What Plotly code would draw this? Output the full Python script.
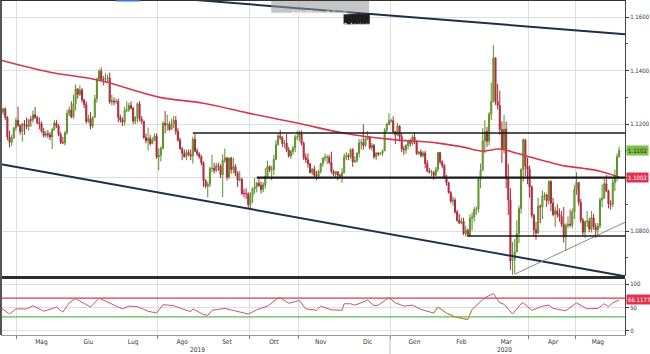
import pandas as pd
import plotly.graph_objects as go

# ---------------- DATA ----------------
first_open = 1.1260
# daily (high, low, close); open = previous close
apr19 = [(1.1265,1.1226,1.1236),(1.1250,1.1230,1.1245),(1.1262,1.1235,1.1257),(1.1262,1.1216,1.1225),
         (1.1230,1.1140,1.1152),(1.1175,1.1112,1.1132),(1.1160,1.1118,1.1148),(1.1190,1.1145,1.1185),
         (1.1224,1.1175,1.1214)]
may19 = [(1.1265,1.1190,1.1194),(1.1200,1.1160,1.1172),(1.1205,1.1135,1.1200),(1.1215,1.1160,1.1197),
         (1.1225,1.1180,1.1191),(1.1220,1.1175,1.1216),(1.1230,1.1190,1.1215),(1.1251,1.1205,1.1235),
         (1.1264,1.1220,1.1224),(1.1232,1.1200,1.1205),(1.1225,1.1180,1.1202),(1.1210,1.1168,1.1173),
         (1.1185,1.1150,1.1157),(1.1175,1.1150,1.1164),(1.1178,1.1148,1.1160),(1.1170,1.1140,1.1152),
         (1.1185,1.1107,1.1180),(1.1215,1.1175,1.1204),(1.1216,1.1185,1.1193),(1.1200,1.1155,1.1161),
         (1.1170,1.1125,1.1131),(1.1152,1.1125,1.1130),(1.1175,1.1120,1.1168)]
jun19 = [(1.1253,1.1160,1.1240),(1.1265,1.1230,1.1253),(1.1285,1.1222,1.1227),(1.1310,1.1220,1.1276),
         (1.1348,1.1250,1.1332),(1.1330,1.1295,1.1311),(1.1345,1.1305,1.1327),(1.1335,1.1280,1.1290),
         (1.1295,1.1260,1.1273),(1.1285,1.1202,1.1210),(1.1235,1.1205,1.1220),(1.1245,1.1181,1.1193),
         (1.1230,1.1185,1.1225),(1.1310,1.1225,1.1295),(1.1375,1.1280,1.1368),(1.1405,1.1360,1.1398),
         (1.1412,1.1360,1.1367),(1.1380,1.1345,1.1367),(1.1390,1.1355,1.1372),(1.1385,1.1355,1.1373)]
jul19 = [(1.1393,1.1276,1.1283),(1.1310,1.1270,1.1286),(1.1300,1.1270,1.1283),(1.1295,1.1275,1.1285),
         (1.1295,1.1207,1.1225),(1.1235,1.1205,1.1215),(1.1225,1.1193,1.1208),(1.1265,1.1195,1.1252),
         (1.1285,1.1245,1.1253),(1.1280,1.1245,1.1270),(1.1285,1.1255,1.1259),(1.1265,1.1200,1.1211),
         (1.1230,1.1200,1.1225),(1.1282,1.1205,1.1276),(1.1286,1.1210,1.1219),(1.1230,1.1200,1.1211),
         (1.1212,1.1145,1.1150),(1.1165,1.1128,1.1138),(1.1187,1.1101,1.1146),(1.1160,1.1120,1.1127),
         (1.1150,1.1125,1.1141),(1.1165,1.1135,1.1155),(1.1165,1.1070,1.1077)]
aug19 = [(1.1110,1.1027,1.1084),(1.1117,1.1060,1.1109),(1.1211,1.1105,1.1203),(1.1249,1.1165,1.1197),
         (1.1235,1.1175,1.1200),(1.1210,1.1175,1.1180),(1.1220,1.1180,1.1200),(1.1230,1.1185,1.1214),
         (1.1230,1.1160,1.1173),(1.1185,1.1135,1.1140),(1.1150,1.1105,1.1108),(1.1115,1.1065,1.1091),
         (1.1105,1.1075,1.1078),(1.1105,1.1065,1.1094),(1.1105,1.1080,1.1085),(1.1105,1.1065,1.1081),
         (1.1153,1.1052,1.1143),(1.1165,1.1095,1.1099),(1.1110,1.1080,1.1089),(1.1095,1.1070,1.1078),
         (1.1085,1.1045,1.1056),(1.1060,1.0965,1.0989)]
sep19 = [(1.0995,1.0960,1.0968),(1.0985,1.0926,1.0974),(1.1040,1.0965,1.1034),(1.1085,1.1020,1.1035),
         (1.1055,1.1015,1.1027),(1.1055,1.1020,1.1044),(1.1055,1.1025,1.1043),(1.1050,1.0998,1.1011),
         (1.1087,1.0927,1.1064),(1.1109,1.1055,1.1074),(1.1075,1.0990,1.1002),(1.1075,1.0995,1.1073),
         (1.1077,1.1015,1.1030),(1.1075,1.1015,1.1041),(1.1050,1.1005,1.1016),(1.1025,1.0965,1.0991),
         (1.1025,1.0985,1.0993),(1.1000,1.0935,1.0941),(1.0958,1.0925,1.0940),(1.0960,1.0920,1.0940),
         (1.0945,1.0885,1.0899)]
oct19 = [(1.0945,1.0879,1.0932),(1.0963,1.0905,1.0958),(1.0999,1.0940,1.0966),(1.0985,1.0945,1.0979),
         (1.0995,1.0965,1.0971),(1.0985,1.0940,1.0956),(1.0983,1.0945,1.0973),(1.1035,1.0960,1.1005),
         (1.1063,1.1000,1.1042),(1.1045,1.1020,1.1029),(1.1045,1.0990,1.1030),(1.1085,1.1010,1.1068),
         (1.1140,1.1065,1.1123),(1.1163,1.1120,1.1156),(1.1179,1.1140,1.1150),(1.1155,1.1115,1.1127),
         (1.1140,1.1110,1.1129),(1.1163,1.1095,1.1103),(1.1115,1.1075,1.1081),(1.1105,1.1070,1.1098),
         (1.1120,1.1085,1.1111),(1.1160,1.1095,1.1152),(1.1175,1.1140,1.1152)]
nov19 = [(1.1176,1.1135,1.1165),(1.1176,1.1120,1.1128),(1.1135,1.1065,1.1075),(1.1090,1.1055,1.1067),
         (1.1090,1.1037,1.1052),(1.1055,1.1015,1.1019),(1.1035,1.1010,1.1032),(1.1045,1.1000,1.1009),
         (1.1025,1.0990,1.1006),(1.1030,1.0995,1.1023),(1.1055,1.1015,1.1052),(1.1075,1.1040,1.1073),
         (1.1090,1.1060,1.1076),(1.1085,1.1050,1.1076),(1.1085,1.1050,1.1057),(1.1097,1.1015,1.1023),
         (1.1030,1.1005,1.1013),(1.1025,1.1000,1.1022),(1.1025,1.0990,1.1009),(1.1015,1.0995,1.1005),
         (1.1035,1.0981,1.1018)]
dec19 = [(1.1090,1.1015,1.1078),(1.1095,1.1065,1.1082),(1.1090,1.1065,1.1078),(1.1110,1.1070,1.1104),
         (1.1110,1.1040,1.1059),(1.1080,1.1055,1.1063),(1.1095,1.1055,1.1091),(1.1145,1.1075,1.1130),
         (1.1145,1.1105,1.1131),(1.1199,1.1105,1.1120),(1.1150,1.1115,1.1144),(1.1175,1.1140,1.1152),
         (1.1155,1.1105,1.1111),(1.1130,1.1100,1.1121),(1.1125,1.1070,1.1078),(1.1095,1.1065,1.1092),
         (1.1095,1.1080,1.1088),(1.1095,1.1085,1.1091),(1.1105,1.1080,1.1100),(1.1185,1.1100,1.1177),
         (1.1205,1.1170,1.1199),(1.1240,1.1195,1.1213)]
jan20 = [(1.1220,1.1205,1.1213),(1.1229,1.1163,1.1171),(1.1175,1.1125,1.1159),(1.1205,1.1155,1.1193),
         (1.1195,1.1135,1.1153),(1.1165,1.1095,1.1107),(1.1120,1.1085,1.1104),(1.1125,1.1090,1.1121),
         (1.1140,1.1105,1.1135),(1.1145,1.1115,1.1128),(1.1160,1.1120,1.1152),(1.1170,1.1125,1.1136),
         (1.1140,1.1085,1.1090),(1.1100,1.1085,1.1096),(1.1105,1.1075,1.1082),(1.1100,1.1075,1.1092),
         (1.1100,1.1035,1.1053),(1.1065,1.1020,1.1024),(1.1035,1.1015,1.1019),(1.1030,1.1005,1.1020),
         (1.1025,1.0992,1.1009),(1.1040,1.1005,1.1031),(1.1096,1.1020,1.1094)]
feb20 = [(1.1095,1.1050,1.1059),(1.1065,1.1035,1.1045),(1.1050,1.0995,1.1001),(1.1010,1.0970,1.0981),
         (1.0985,1.0940,1.0944),(1.0950,1.0905,1.0912),(1.0930,1.0895,1.0916),(1.0925,1.0865,1.0872),
         (1.0880,1.0835,1.0840),(1.0865,1.0827,1.0830),(1.0850,1.0825,1.0837),(1.0850,1.0785,1.0791),
         (1.0820,1.0780,1.0803),(1.0810,1.0778,1.0783),(1.0863,1.0780,1.0848),(1.0870,1.0802,1.0852),
         (1.0890,1.0835,1.0880),(1.0892,1.0860,1.0882),(1.1000,1.0870,1.0995),(1.1053,1.0960,1.1027)]
mar20 = [(1.1185,1.1025,1.1137),(1.1214,1.1090,1.1172),(1.1190,1.1115,1.1136),(1.1245,1.1120,1.1237),
         (1.1355,1.1215,1.1285),(1.1495,1.1280,1.1448),(1.1448,1.1272,1.1285),(1.1350,1.1255,1.1270),
         (1.1325,1.1160,1.1180),(1.1210,1.1055,1.1106),(1.1235,1.1090,1.1181),(1.1210,1.0960,1.0996),
         (1.1050,1.0860,1.0916),(1.0960,1.0655,1.0689),(1.0760,1.0636,1.0693),(1.0770,1.0640,1.0722),
         (1.0840,1.0735,1.0791),(1.0895,1.0755,1.0884),(1.1035,1.0865,1.1030),(1.1147,1.0985,1.1141),
         (1.1145,1.1005,1.1043),(1.1075,1.0975,1.1031)]
apr20 = [(1.1045,1.0925,1.0966),(1.0970,1.0850,1.0859),(1.0865,1.0780,1.0805),(1.0835,1.0768,1.0793),
         (1.0925,1.0790,1.0893),(1.0900,1.0830,1.0890),(1.0952,1.0845,1.0932),(1.0945,1.0915,1.0935),
         (1.0940,1.0890,1.0914),(1.0990,1.0900,1.0985),(1.0990,1.0875,1.0905),(1.0925,1.0855,1.0862),
         (1.0890,1.0815,1.0876),(1.0900,1.0850,1.0863),(1.0885,1.0835,1.0855),(1.0875,1.0815,1.0825),
         (1.0890,1.0757,1.0778),(1.0830,1.0727,1.0821),(1.0855,1.0810,1.0826),(1.0880,1.0815,1.0823),
         (1.0885,1.0810,1.0872),(1.0972,1.0845,1.0955)]
may20 = [(1.1020,1.0935,1.0982),(1.0980,1.0895,1.0908),(1.0920,1.0830,1.0841),(1.0850,1.0782,1.0796),
         (1.0840,1.0775,1.0835),(1.0875,1.0815,1.0837),(1.0850,1.0795,1.0807),(1.0875,1.0795,1.0850),
         (1.0865,1.0805,1.0816),(1.0830,1.0775,1.0804),(1.0830,1.0785,1.0819),(1.0925,1.0810,1.0917),
         (1.0975,1.0890,1.0924),(1.0995,1.0920,1.0977),(1.1010,1.0945,1.0950),(1.0955,1.0885,1.0902),
         (1.0915,1.0880,1.0900),(1.0995,1.0890,1.0981),(1.1030,1.0950,1.1008),(1.1090,1.0985,1.1078),
         (1.1115,1.1075,1.1102)]

month_blocks = [("2019-04-18", "2019-04-30", apr19), ("2019-05-01", "2019-05-31", may19),
                ("2019-06-01", "2019-06-30", jun19), ("2019-07-01", "2019-07-31", jul19),
                ("2019-08-01", "2019-08-31", aug19), ("2019-09-01", "2019-09-30", sep19),
                ("2019-10-01", "2019-10-31", oct19), ("2019-11-01", "2019-11-30", nov19),
                ("2019-12-01", "2019-12-31", dec19), ("2020-01-01", "2020-01-31", jan20),
                ("2020-02-01", "2020-02-29", feb20), ("2020-03-01", "2020-03-31", mar20),
                ("2020-04-01", "2020-04-30", apr20), ("2020-05-01", "2020-05-31", may20)]

# 200-day moving average
ma_dates = ["2019-04-19", "2019-05-22", "2019-06-24", "2019-08-01", "2019-08-30", "2019-09-30",
            "2019-10-31", "2019-12-02", "2019-12-31", "2020-01-31", "2020-02-18", "2020-03-02",
            "2020-03-12", "2020-03-24", "2020-04-03", "2020-04-14", "2020-04-24", "2020-05-06",
            "2020-05-18", "2020-05-29"]
ma_vals = [1.1439, 1.1394, 1.1364, 1.1301, 1.1278, 1.1241, 1.1204, 1.1166, 1.1144, 1.1129,
           1.1114, 1.1099, 1.1107, 1.1091, 1.1073, 1.1058, 1.1043, 1.1035, 1.1024, 1.1002]

# RSI (lower panel)
rsi_dates = ["2019-04-19", "2019-04-25", "2019-04-30", "2019-05-07", "2019-05-10", "2019-05-17",
             "2019-05-24", "2019-05-27", "2019-05-30", "2019-06-04", "2019-06-07", "2019-06-11",
             "2019-06-14", "2019-06-18", "2019-06-24", "2019-06-28", "2019-07-03", "2019-07-09",
             "2019-07-12", "2019-07-18", "2019-07-25", "2019-07-31", "2019-08-05", "2019-08-12",
             "2019-08-16", "2019-08-22", "2019-08-23", "2019-08-30", "2019-09-03", "2019-09-05",
             "2019-09-13", "2019-09-19", "2019-09-27", "2019-09-30", "2019-10-04", "2019-10-11",
             "2019-10-18", "2019-10-21", "2019-10-25", "2019-11-01", "2019-11-06", "2019-11-13",
             "2019-11-15", "2019-11-22", "2019-11-29", "2019-12-02", "2019-12-05", "2019-12-09",
             "2019-12-13", "2019-12-17", "2019-12-20", "2019-12-24", "2019-12-31", "2020-01-03",
             "2020-01-09", "2020-01-15", "2020-01-21", "2020-01-29", "2020-01-31", "2020-02-06",
             "2020-02-12", "2020-02-19", "2020-02-20", "2020-02-24", "2020-02-28", "2020-03-03",
             "2020-03-09", "2020-03-12", "2020-03-16", "2020-03-20", "2020-03-26", "2020-03-27",
             "2020-04-02", "2020-04-09", "2020-04-14", "2020-04-16", "2020-04-24", "2020-04-30",
             "2020-05-01", "2020-05-08", "2020-05-15", "2020-05-20", "2020-05-22", "2020-05-26",
             "2020-05-29"]
rsi_vals = [49, 36, 47, 47, 54, 42, 49, 51, 40, 60, 69, 64, 55, 51, 70, 62, 55, 47, 53, 52,
            42, 38, 56, 54, 47, 41, 47, 35, 33, 44, 48, 44, 38, 36, 45, 53, 70, 71, 59, 65,
            47, 44, 53, 45, 44, 58, 58, 55, 62, 66, 54, 55, 71, 60, 53, 55, 46, 38, 51, 38,
            30, 25, 24, 46, 62, 71, 80, 60, 57, 36, 58, 60, 44, 53, 55, 48, 43, 58, 60, 47,
            48, 58, 52, 60, 66.1177]
rsi_low_start, rsi_low_end = "2020-01-29", "2020-02-24"
rsi_levels = [70, 30]
rsi_level_colors = ["#d8394f", "#62b85a"]

# drawn lines (start date, start price, end date, end price)
upper_channel = ("2019-04-19", 1.1722, "2020-06-02 18:00", 1.1536)
lower_channel = ("2019-04-19", 1.1050, "2020-06-02 18:00", 1.0631)
support_rising = ("2020-03-23", 1.0639, "2020-06-02 18:00", 1.0833)
hlines = [("2019-08-23", 1.1167, 1.5), ("2019-10-04", 1.1000, 2.2), ("2020-02-20", 1.0782, 1.5)]

month_labels = ["Mag", "Giu", "Lug", "Ago", "Set", "Ott", "Nov", "Dic",
                "Gen", "Feb", "Mar", "Apr", "Mag"]
year_labels = [("2019-08-27", "2019"), ("2020-03-16", "2020")]
price_ticks = [1.08, 1.10, 1.12, 1.14, 1.16]
price_ticktext = ["1.0800", "", "1.1200", "1.1400", "1.1600"]
price_minor = [1.07, 1.09, 1.11, 1.13, 1.15]
rsi_ticks = [0, 50, 100]

# ---------------- BUILD ----------------
dates, opens, highs, lows, closes = [], [], [], [], []
prev = first_open
for start, end, rows in month_blocks:
    bd = pd.bdate_range(start, end)
    for d, (h, l, c) in zip(bd, rows):
        dates.append(d)
        opens.append(prev)
        highs.append(max(h, prev, c))
        lows.append(min(l, prev, c))
        closes.append(c)
        prev = c

x_start = pd.Timestamp("2019-04-19 00:00")
x_end = pd.Timestamp("2020-06-02 18:00")

# month separators (between last trading day of a month and the first of the next)
month_grid, month_mid = [], []
for m in pd.date_range("2019-05-01", "2020-05-01", freq="MS"):
    bd = pd.bdate_range(m, m + pd.offsets.MonthEnd(0))
    month_grid.append(bd[0] - pd.Timedelta(hours=12))
    month_mid.append(bd[len(bd) // 2])

FONT = "Liberation Sans Narrow, Arial Narrow, DejaVu Sans Condensed, sans-serif"
GRID = "#dedede"

fig = go.Figure()
fig.add_trace(go.Candlestick(
    x=dates, open=opens, high=highs, low=lows, close=closes,
    increasing=dict(fillcolor="#8cc63c", line=dict(color="#5d8f2a", width=1)),
    decreasing=dict(fillcolor="#d8243c", line=dict(color="#a82a3c", width=1)),
    whiskerwidth=0, xaxis="x", yaxis="y", hoverinfo="skip"))

fig.add_trace(go.Scatter(x=ma_dates, y=ma_vals, mode="lines",
                         line=dict(color="#d8364f", width=1.6, shape="spline"),
                         xaxis="x", yaxis="y", hoverinfo="skip"))

for (d0, p0, d1, p1), col, w in [(upper_channel, "#1d3049", 2), (lower_channel, "#1d3049", 2),
                                 (support_rising, "#8a8a8a", 1)]:
    fig.add_trace(go.Scatter(x=[d0, d1], y=[p0, p1], mode="lines",
                             line=dict(color=col, width=w), xaxis="x", yaxis="y",
                             hoverinfo="skip", cliponaxis=True))

for d0, p, w in hlines:
    fig.add_trace(go.Scatter(x=[d0, x_end], y=[p, p], mode="lines",
                             line=dict(color="#1a1a1a", width=w), xaxis="x", yaxis="y",
                             hoverinfo="skip"))

# RSI panel
for lvl, col in zip(rsi_levels, rsi_level_colors):
    fig.add_trace(go.Scatter(x=[x_start, x_end], y=[lvl, lvl], mode="lines",
                             line=dict(color=col, width=1.2), xaxis="x2", yaxis="y2",
                             hoverinfo="skip"))
fig.add_trace(go.Scatter(x=rsi_dates, y=rsi_vals, mode="lines",
                         line=dict(color="#c35a70", width=1), xaxis="x2", yaxis="y2",
                         hoverinfo="skip"))
low_idx = [i for i, d in enumerate(rsi_dates) if rsi_low_start <= d <= rsi_low_end]
fig.add_trace(go.Scatter(x=[rsi_dates[i] for i in low_idx], y=[rsi_vals[i] for i in low_idx],
                         mode="lines", line=dict(color="#a4a23e", width=1),
                         xaxis="x2", yaxis="y2", hoverinfo="skip"))

rb = [dict(bounds=["sat", "mon"])]
fig.update_layout(
    width=650, height=354, margin=dict(l=1, r=19, t=0, b=19),
    paper_bgcolor="white", plot_bgcolor="white", showlegend=False,
    font=dict(family=FONT, size=7, color="#333"),
    xaxis=dict(domain=[0, 1], anchor="y", range=[x_start, x_end], rangebreaks=rb,
               showticklabels=False, showgrid=False, zeroline=False, ticks="",
               rangeslider=dict(visible=False),
               minor=dict(tickvals=month_grid, showgrid=True, gridcolor=GRID, gridwidth=1, ticks="")),
    xaxis2=dict(domain=[0, 1], anchor="y2", matches="x", range=[x_start, x_end], rangebreaks=rb,
                tickvals=month_mid, ticktext=month_labels, ticks="", showgrid=False,
                zeroline=False, showline=True, linecolor="#9a9a9a", linewidth=1,
                tickfont=dict(size=6.5, color="#333", family=FONT),
                minor=dict(tickvals=month_grid, showgrid=True, gridcolor=GRID, gridwidth=1,
                           ticks="outside", ticklen=3, tickcolor="#777")),
    yaxis=dict(domain=[0.176, 1], anchor="x", side="right", range=[1.0632, 1.1664],
               tickvals=price_ticks, ticktext=price_ticktext, ticks="outside", ticklen=3,
               tickcolor="#333", showgrid=True, gridcolor=GRID, zeroline=False,
               showline=True, linecolor="#444", linewidth=1,
               tickfont=dict(size=6, color="#333", family=FONT),
               minor=dict(tickvals=price_minor, ticks="outside", ticklen=2, tickcolor="#555",
                          showgrid=False)),
    yaxis2=dict(domain=[0, 0.167], anchor="x2", side="right", range=[-9, 111],
                tickvals=rsi_ticks, ticks="outside", ticklen=3, tickcolor="#333",
                showgrid=True, gridcolor=GRID, zeroline=False,
                showline=True, linecolor="#444", linewidth=1,
                tickfont=dict(size=6, color="#333", family=FONT)),
)

shapes = [
    dict(type="rect", xref="paper", yref="paper", x0=0, x1=1, y0=0.167, y1=0.176,
         fillcolor="#2c2c2c", line=dict(width=0)),
    dict(type="line", xref="paper", yref="paper", x0=0, x1=0, y0=0, y1=1,
         line=dict(color="#555", width=2)),
    dict(type="line", xref="paper", yref="paper", x0=0, x1=1, y0=1, y1=1,
         line=dict(color="#333", width=2)),
    dict(type="line", xref="paper", yref="paper", x0=0.185, x1=0.222, y0=1, y1=1,
         line=dict(color="#3a78c8", width=3)),
    dict(type="line", xref="x2", yref="paper", x0=month_grid[8], x1=month_grid[8], y0=0, y1=-0.057,
         line=dict(color="#bbbbbb", width=1)),
    # toolbar overlay
    dict(type="rect", xref="paper", yref="paper", x0=0.433, x1=0.59, y0=0.962, y1=0.997,
         fillcolor="rgba(150,150,150,0.55)", line=dict(width=0)),
    dict(type="rect", xref="paper", yref="paper", x0=0.549, x1=0.591, y0=0.927, y1=0.958,
         fillcolor="#1e1e1e", line=dict(width=0)),
]
fig.update_layout(shapes=shapes)

ann = [
    dict(xref="paper", yref="y", x=1, y=closes[-1], xanchor="left", xshift=1,
         text=f"{closes[-1]:.4f}", showarrow=False, bgcolor="#7cc242",
         font=dict(size=6, color="#1a1a1a", family=FONT), borderpad=1),
    dict(xref="paper", yref="y", x=1, y=ma_vals[-1], xanchor="left", xshift=1,
         text=f"{ma_vals[-1]:.4f}", showarrow=False, bgcolor="#e0324e",
         font=dict(size=6, color="white", family=FONT), borderpad=1),
    dict(xref="paper", yref="y2", x=1, y=rsi_vals[-1], xanchor="left", xshift=1,
         text=f"{rsi_vals[-1]:.4f}", showarrow=False, bgcolor="#e0324e",
         font=dict(size=6, color="white", family=FONT), borderpad=1),
    dict(xref="paper", yref="paper", x=0.511, y=0.979, text="▮ Modifica    ⚲ Zoom",
         showarrow=False, font=dict(size=6, color="#f0f0f0", family=FONT)),
    dict(xref="paper", yref="paper", x=0.570, y=0.942, text="⚙ Aggiorn",
         showarrow=False, font=dict(size=6, color="white", family=FONT)),
]
for xd, txt in year_labels:
    ann.append(dict(xref="x2", yref="paper", x=xd, y=0, yanchor="top", yshift=-9,
                    text=txt, showarrow=False, font=dict(size=6.5, color="#333", family=FONT)))
fig.update_layout(annotations=ann)

fig.write_html("out.html")
